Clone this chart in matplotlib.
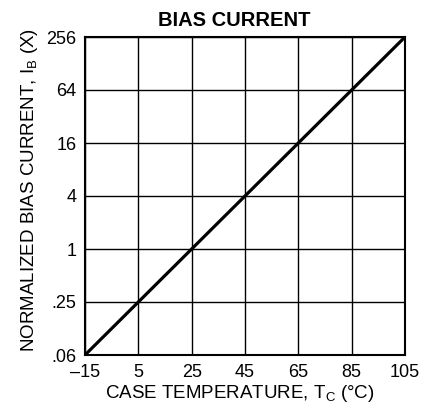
import matplotlib
matplotlib.use("Agg")
import matplotlib.pyplot as plt
import numpy as np

plt.rcParams['font.family'] = ['Liberation Sans', 'DejaVu Sans']
plt.rcParams['mathtext.fontset'] = 'custom'
plt.rcParams['mathtext.rm'] = 'Liberation Sans'

# data
temp = [-15, 5, 25, 45, 65, 85, 105]
bias = [0.0625, 0.25, 1, 4, 16, 64, 256]
xticklabels = ['\u201315', '5', '25', '45', '65', '85', '105']
yticklabels = ['.06', '.25', '1', '4', '16', '64', '256']

W, H = 424, 408
fig = plt.figure(figsize=(W / 100, H / 100), dpi=100)
ax = fig.add_axes([85 / W, 1 - 355 / H, 320 / W, 318 / H])

ax.plot(temp, bias, color='black', lw=2.3, solid_capstyle='butt')
ax.set_yscale('log', base=2)
ax.set_xlim(temp[0], temp[-1])
ax.set_ylim(bias[0], bias[-1])

ax.set_xticks(temp)
ax.set_xticklabels(xticklabels)
ax.set_yticks(bias)
ax.set_yticklabels(yticklabels)
ax.minorticks_off()
ax.tick_params(length=0, labelsize=13, colors='black')
ax.tick_params(axis='x', pad=6.5)
ax.tick_params(axis='y', pad=6)
ax.grid(True, color='black', lw=1.0)

for s in ax.spines.values():
    s.set_linewidth(1.5)

# title and axis labels placed like the original
fig.text(234.5 / W, 1 - 26 / H, 'BIAS CURRENT', fontsize=14.5, fontweight='bold',
         ha='center', va='baseline')
fig.text(239.5 / W, 1 - 398 / H,
         r'CASE TEMPERATURE, T$_\mathregular{C}$ ($\mathregular{\degree}$C)',
         fontsize=13.5, ha='center', va='baseline')
fig.text(30 / W, 1 - 190.5 / H,
         r'NORMALIZED BIAS CURRENT, I$_\mathregular{B}$ (X)',
         fontsize=13.5, rotation=90, ha='center', va='center')

fig.savefig('out.png', dpi=100)
